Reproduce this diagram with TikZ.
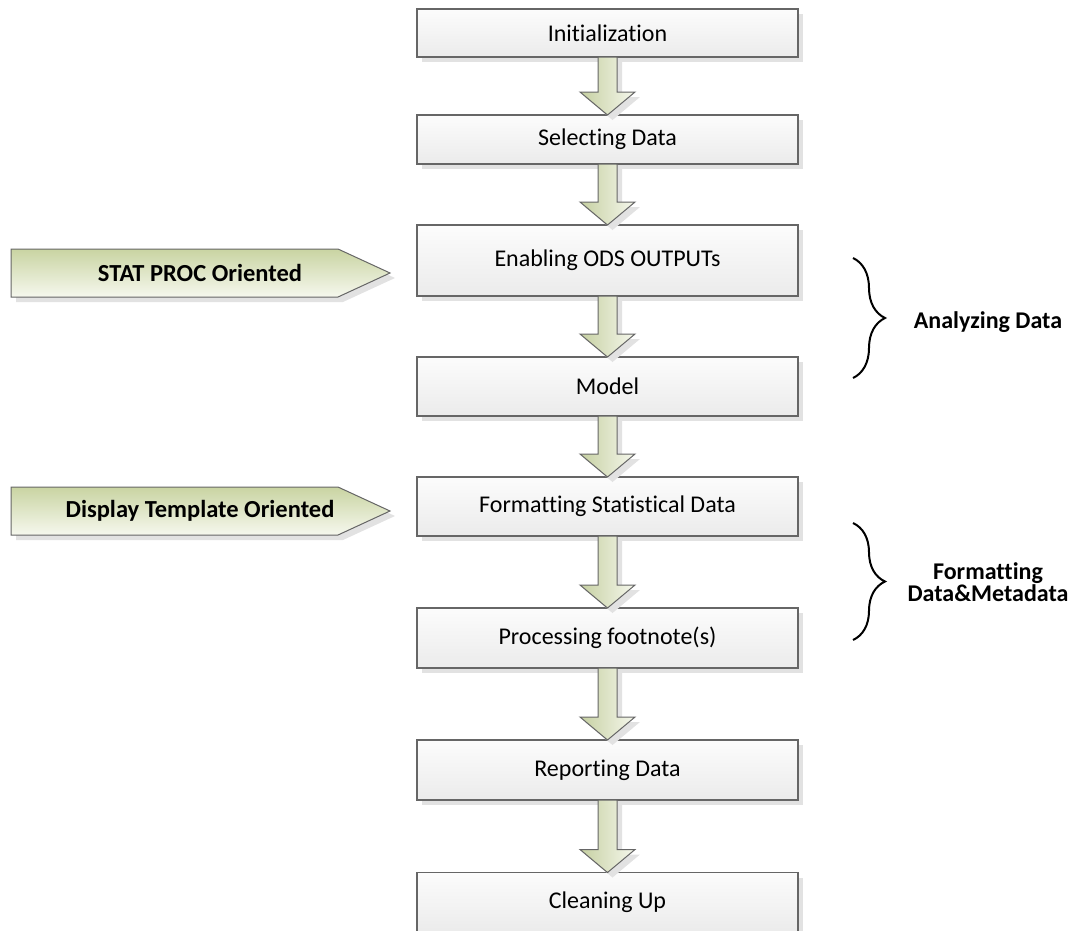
\documentclass[tikz,border=0pt]{standalone}
\usepackage{fontspec}
\setmainfont{Carlito}[Ligatures=NoCommon]
\usetikzlibrary{shadows,decorations.pathreplacing,calc}
\definecolor{boxborder}{HTML}{666666}
\definecolor{boxtop}{HTML}{FCFCFC}
\definecolor{boxbot}{HTML}{EBEBEB}
\definecolor{arrdark}{HTML}{C6D0A2}
\definecolor{arrlight}{HTML}{F5F7EC}
\definecolor{sigtop}{HTML}{C9D4A2}
\definecolor{sigbot}{HTML}{F6F8EE}
\definecolor{shadowgray}{HTML}{E2E2E2}
\newcommand\flowarrow[2]{%
  \path[flowarr] let \p1=(#1.south), \p2=(#2.north) in
    (\x1-9.5pt,\y1) -- (\x1-9.5pt,\y2+23pt) -- (\x1-27.5pt,\y2+23pt) --
    (\x2,\y2) -- (\x1+27.5pt,\y2+23pt) -- (\x1+9.5pt,\y2+23pt) --
    (\x1+9.5pt,\y1) -- cycle;}
\begin{document}
\begin{tikzpicture}[x=1pt,y=-1pt,
  myshadow/.style={drop shadow={shadow xshift=5pt, shadow yshift=-5pt, fill=shadowgray, opacity=1}},
  stepbox/.style={rectangle, draw=boxborder, line width=1.2pt, top color=boxtop,
    bottom color=boxbot, minimum width=381pt, inner sep=0pt, outer sep=0pt,
    font=\fontsize{24}{28}\selectfont, text=black, myshadow},
  flowarr/.style={draw=boxborder, line width=1pt, left color=arrdark,
    right color=arrlight, myshadow},
  sigshape/.style={draw=boxborder, line width=1pt, top color=sigtop,
    bottom color=sigbot, myshadow},
  sigtext/.style={font=\bfseries\fontsize{24.5}{28}\selectfont, text=black, inner sep=0pt},
  bracestyle/.style={decorate, decoration={brace, amplitude=32pt}, line width=2pt, black},
  bracelabel/.style={font=\bfseries\fontsize{24}{19}\selectfont, align=center, text=black, inner sep=0pt}]
\useasboundingbox (0,0) rectangle (1071,930);

% main flow boxes
\node[stepbox, minimum height=48pt] (init)  at (607.5,33)    {Initialization};
\node[stepbox, minimum height=49pt] (sel)   at (607.5,139.5) {Selecting Data};
\node[stepbox, minimum height=71pt] (ods)   at (607.5,260.5) {Enabling ODS OUTPUTs};
\node[stepbox, minimum height=59pt] (model) at (607.5,386.5) {Model};
\node[stepbox, minimum height=59pt] (fmt)   at (607.5,506.5) {Formatting Statistical Data};
\node[stepbox, minimum height=60pt] (foot)  at (607.5,638)   {Processing footnote(s)};
\node[stepbox, minimum height=60pt] (rep)   at (607.5,770)   {Reporting Data};
\node[stepbox, minimum height=60pt] (clean) at (607.5,902.5) {Cleaning Up};

% block arrows
\flowarrow{init}{sel}
\flowarrow{sel}{ods}
\flowarrow{ods}{model}
\flowarrow{model}{fmt}
\flowarrow{fmt}{foot}
\flowarrow{foot}{rep}
\flowarrow{rep}{clean}

% left pentagon labels
\path[sigshape] (11,249) -- (338,249) -- (390,273) -- (338,297) -- (11,297) -- cycle;
\node[sigtext] (stat) at (200,273) {STAT PROC Oriented};
\path[sigshape] (11,487) -- (338,487) -- (390,511) -- (338,535) -- (11,535) -- cycle;
\node[sigtext] (disp) at (200,511) {Display Template Oriented};

% braces
\coordinate (b1top) at (853,258);
\coordinate (b1bot) at (853,378);
\draw[bracestyle] (b1top) -- (b1bot);
\node[bracelabel] (anal) at (988,322) {Analyzing Data};
\coordinate (b2top) at (853,523);
\coordinate (b2bot) at (853,640);
\draw[bracestyle] (b2top) -- (b2bot);
\node[bracelabel] (fdm) at (988,582) {Formatting\\Data\&Metadata};
\end{tikzpicture}
\end{document}
